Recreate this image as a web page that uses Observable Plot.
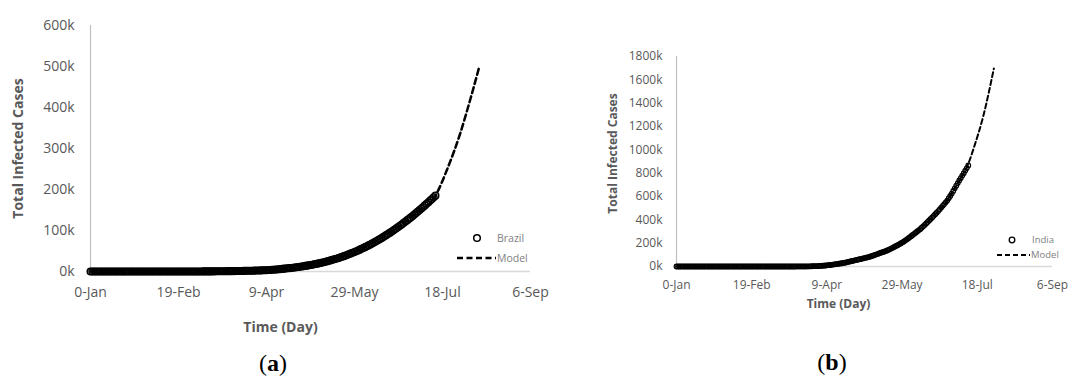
<!DOCTYPE html>
<html>
<head>
<meta charset="utf-8">
<script src="https://cdn.jsdelivr.net/npm/d3@7"></script>
<script src="https://cdn.jsdelivr.net/npm/@observablehq/plot@0.6"></script>
<style>
  body { margin: 0; background: #fff; }
  #page { position: relative; width: 1070px; height: 379px; overflow: hidden; background: #fff; }
  .panel { position: absolute; top: 0; }
  .cap { position: absolute; width: 60px; text-align: center; font-family: "Liberation Serif", serif; font-size: 24px; line-height: 24px; color: #000; }
  .overlay { position: absolute; left: 0; top: 0; pointer-events: none; }
</style>
</head>
<body>
<div id="page"></div>
<script>
// Day axis (day-of-year serials) and the labels shown under it
const dayTicks = [0, 50, 100, 150, 200, 250];
const dayTickLabels = ["0-Jan", "19-Feb", "9-Apr", "29-May", "18-Jul", "6-Sep"];

// Y ticks, thousands of cases
const brazilYTicks = [0, 100, 200, 300, 400, 500, 600];
const indiaYTicks = [0, 200, 400, 600, 800, 1000, 1200, 1400, 1600, 1800];

// Brazil: daily total infected cases (thousands), day 0 .. 196
const brazilCases = [
  0,0,0,0,0,0,0,0,0,0, 0,0,0,0,0,0,0,0,0,0, 0,0,0,0,0,0,0,0,0,0,
  0,0,0,0,0,0,0,0,0,0, 0,0,0,0,0,0,0,0,0,0, 0,0,0,0,0,0,0,0,0,0,
  0.1,0.1,0.1,0.1,0.2,0.2,0.2,0.3,0.3,0.3,
  0.4,0.4,0.5,0.5,0.6,0.6,0.7,0.7,0.8,0.8,
  0.9,1.0,1.0,1.1,1.2,1.3,1.4,1.5,1.6,1.7,
  1.8,1.9,2.0,2.1,2.3,2.4,2.6,2.7,2.9,3.0,
  3.2,3.5,3.8,4.1,4.4,4.7,5.0,5.4,5.9,6.4,
  7.0,7.4,7.8,8.2,8.7,9.2,9.7,10.2,10.8,11.5,
  12.2,12.9,13.6,14.3,15.0,15.8,16.6,17.4,18.3,19.2,
  20.1,21.1,22.1,23.2,24.3,25.4,26.6,27.8,29.1,30.4,
  31.7,33.1,34.5,36.0,37.5,39.1,40.7,42.4,44.1,45.9,
  47.7,49.5,51.4,53.3,55.3,57.3,59.4,61.5,63.7,65.9,
  68.2,70.6,73.0,75.5,78.0,80.6,83.2,85.9,88.6,91.4,
  94.2,97.1,100.0,103.0,106.0,109.1,112.2,115.4,118.6,121.9,
  125.2,128.6,132.0,135.5,139.0,142.6,146.2,149.9,153.6,157.4,
  161.2,165.1,169.0,173.0,177.0,181.0,185.0
];
// Brazil: fitted model (thousands)
const brazilModelDays  = [0, 60, 90, 110, 130, 150, 170, 185, 196, 203, 210, 216, 221];
const brazilModelCases = [0, 0.1, 1.8, 7.0, 20.1, 47.7, 94.2, 142.6, 185, 253, 336, 423, 501];

// India: daily total infected cases (thousands), day 0 .. 194
const indiaCases = [
  0,0,0,0,0,0,0,0,0,0, 0,0,0,0,0,0,0,0,0,0, 0,0,0,0,0,0,0,0,0,0,
  0,0,0,0,0,0,0,0,0,0, 0,0,0,0,0,0,0,0,0,0, 0,0,0,0,0,0,0,0,0,0,
  0,0,0,0,0,0,0,0,0,0.1,
  0.1,0.1,0.1,0.1,0.1,0.1,0.1,0.2,0.2,0.2,
  0.3,0.4,0.5,0.5,0.6,0.7,0.9,1.0,1.1,1.3,
  2,2.5,3,3.5,4,5,5.5,6.5,7.5,8.5,
  10,11.5,13,14.5,16.5,18.5,20.5,22.5,24.5,26,
  28,30.5,33,36,39,42,45,48,51,54,
  57,60,63,66,69,72,75.5,79,82.5,86,
  90,95,100,104.5,109,113.5,118,122.5,127.5,132,
  137,143,149.5,156,162.5,169.5,176,183,190,197.5,
  205,213,222,231,240,250,260,270,280,290,
  300,310,320,332,344,356,369,382,395,408,
  421,434,448,461,475,490,505,520,535,550,
  565,585,605,625,648,670,692,715,737,758,
  779,800,822,844,866
];
// India: fitted model (thousands)
const indiaModelDays  = [0, 60, 90, 110, 130, 150, 170, 180, 188, 194, 198, 204, 211];
const indiaModelCases = [0, 0, 2, 28, 90, 205, 421, 565, 737, 880, 1030, 1290, 1697];

const page = document.getElementById("page");

function panel(o) {
  const model = o.modelDays.map((day, i) => ({day, k: o.modelCases[i]}));
  const chart = Plot.plot({
    width: o.width,
    height: 340,
    marginLeft: o.marginLeft,
    marginRight: o.marginRight,
    marginTop: o.marginTop,
    marginBottom: o.marginBottom,
    style: {fontFamily: '"Open Sans", sans-serif', fontSize: o.fontSize + "px", color: "#595959", background: "transparent", overflow: "visible"},
    x: {domain: [0, 250]},
    y: {domain: [0, o.yTicks[o.yTicks.length - 1]]},
    marks: [
      Plot.ruleY([0], {stroke: "#d9d9d9", strokeWidth: 1.3}),
      Plot.ruleX([0], {stroke: "#bfbfbf", strokeWidth: 1.2}),
      Plot.axisX({ticks: dayTicks, tickFormat: d => dayTickLabels[dayTicks.indexOf(d)], tickSize: 0, tickPadding: o.tickPadX, label: null}),
      Plot.axisY({ticks: o.yTicks, tickFormat: d => `${d}k`, tickSize: 0, tickPadding: o.tickPadY, label: null}),
      Plot.dot(o.cases, {x: (d, i) => i, y: d => d, r: o.r, stroke: "black", strokeWidth: o.sw, fill: "none"}),
      Plot.line(model, {x: "day", y: "k", stroke: "black", strokeWidth: o.lw, strokeDasharray: o.dash, curve: "monotone-x"}),
      Plot.text(["Total Infected Cases"], {text: d => d, frameAnchor: "left", dx: o.yTitleDx, dy: o.yTitleDy, rotate: -90, textAnchor: "middle", lineAnchor: "middle", fontWeight: "bold", fill: "#595959"}),
      Plot.text(["Time (Day)"], {text: d => d, frameAnchor: "bottom", dx: o.xTitleDx, dy: o.xTitleDy, textAnchor: "middle", lineAnchor: "middle", fontWeight: "bold", fill: "#595959"})
    ]
  });
  chart.classList.add("panel");
  chart.style.left = o.left + "px";
  page.appendChild(chart);
}

panel({
  cases: brazilCases, modelDays: brazilModelDays, modelCases: brazilModelCases, yTicks: brazilYTicks,
  left: 0, width: 560, marginLeft: 90, marginRight: 30, marginTop: 25, marginBottom: 69,
  fontSize: 14, tickPadX: 16, tickPadY: 16,
  r: 3.3, sw: 1.5, lw: 2.5, dash: "6,3.5",
  yTitleDx: -72, yTitleDy: 0, xTitleDx: -30, xTitleDy: 56
});

panel({
  cases: indiaCases, modelDays: indiaModelDays, modelCases: indiaModelCases, yTicks: indiaYTicks,
  left: 560, width: 510, marginLeft: 116, marginRight: 18, marginTop: 56, marginBottom: 74,
  fontSize: 12, tickPadX: 14, tickPadY: 14,
  r: 2.3, sw: 1.2, lw: 2, dash: "5,3",
  yTitleDx: -63, yTitleDy: -8, xTitleDx: -26, xTitleDy: 38
});

// Panel captions
function caption(letter, left, top) {
  const div = document.createElement("div");
  div.className = "cap";
  div.style.left = left + "px";
  div.style.top = top + "px";
  div.innerHTML = `(<b>${letter}</b>)`;
  page.appendChild(div);
}
caption("a", 243, 351);
caption("b", 802, 350);

// Legends drawn over the plot areas
const overlay = d3.create("svg")
  .attr("class", "overlay")
  .attr("width", 1070).attr("height", 379)
  .style("font-family", '"Open Sans", sans-serif');

function legend(g, s) {
  g.append("circle").attr("cx", s.cx).attr("cy", s.cy).attr("r", s.r)
    .attr("fill", "none").attr("stroke", "black").attr("stroke-width", s.sw);
  g.append("text").attr("x", s.tx).attr("y", s.cy).attr("dy", "0.35em")
    .attr("fill", "#808080").attr("font-size", s.fs).text(s.name);
  g.append("line").attr("x1", s.lx1).attr("x2", s.lx2).attr("y1", s.ly).attr("y2", s.ly)
    .attr("stroke", "black").attr("stroke-width", s.lw).attr("stroke-dasharray", s.dash);
  g.append("text").attr("x", s.lx2 + 1).attr("y", s.ly).attr("dy", "0.35em")
    .attr("fill", "#808080").attr("font-size", s.fs).text("Model");
}
legend(overlay.append("g"), {name: "Brazil", cx: 477, cy: 238, r: 3.3, sw: 1.5, tx: 497, lx1: 457, lx2: 496, ly: 258, lw: 2.5, dash: "6,3.5", fs: 10.5});
legend(overlay.append("g"), {name: "India", cx: 1012, cy: 240, r: 2.8, sw: 1.3, tx: 1032, lx1: 997, lx2: 1030, ly: 255, lw: 2, dash: "5,3", fs: 9.5});
page.appendChild(overlay.node());
</script>
</body>
</html>
